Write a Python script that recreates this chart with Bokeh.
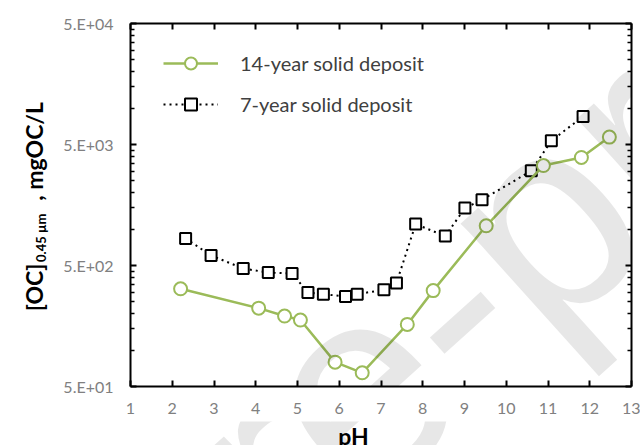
from bokeh.plotting import figure
from bokeh.layouts import row, column
from bokeh.models import FixedTicker, LinearAxis, LogAxis, Label, Legend, LegendItem, Range1d
from bokeh.embed import file_html
from bokeh.resources import INLINE

# ---- data ----
ph_14 = [2.20, 4.07, 4.69, 5.07, 5.90, 6.55, 7.63, 8.25, 9.52, 10.89, 11.80, 12.47]
oc_14 = [321, 222, 191, 177, 79.5, 64.9, 163, 310, 1064, 3350, 3906, 5755]
ph_7 = [2.32, 2.93, 3.70, 4.30, 4.87, 5.25, 5.62, 6.15, 6.43, 7.07, 7.37, 7.83, 8.54,
        9.01, 9.42, 10.60, 11.08, 11.84]
oc_7 = [836, 605, 472, 437, 429, 299, 290, 277, 290, 315, 358, 1100, 875,
        1490, 1745, 3030, 5370, 8510]
series_names = ["14-year solid deposit", "7-year solid deposit"]
x_ticks = [1, 2, 3, 4, 5, 6, 7, 8, 9, 10, 11, 12, 13]
y_ticks = [50, 500, 5000, 50000]
y_tick_labels = ["5.E+01", "5.E+02", "5.E+03", "5.E+04"]
y_minor = [100, 150, 200, 250, 300, 350, 400, 450,
           1000, 1500, 2000, 2500, 3000, 3500, 4000, 4500,
           10000, 15000, 20000, 25000, 30000, 35000, 40000, 45000]
y_title_parts = ["[OC]", "0.45 µm", ", mgOC/L"]
x_title = "pH"
watermark_parts = ["Journal Pre", "-", "proof"]

GREEN = "#9BBB59"
TICK_GRAY = "#808080"
FONT = "Lato"

p = figure(width=590, height=421, x_range=(1, 13), y_range=(50, 50000),
           y_axis_type="log", output_backend="svg", toolbar_location=None,
           min_border_left=80, min_border_right=9, min_border_top=23,
           min_border_bottom=35)
p.grid.visible = False
p.outline_line_color = None
p.background_fill_color = "white"
p.border_fill_color = "white"

yt = FixedTicker(ticks=y_ticks, minor_ticks=y_minor)
xt = FixedTicker(ticks=x_ticks)


def style_axis(ax, labels=True):
    ax.axis_line_color = "black"
    ax.axis_line_width = 2
    ax.major_tick_line_color = "black"
    ax.major_tick_line_width = 2
    ax.minor_tick_line_color = "black"
    ax.minor_tick_line_width = 1.5
    ax.major_tick_in = 6
    ax.major_tick_out = 0
    ax.minor_tick_in = 4
    ax.minor_tick_out = 0
    if labels:
        ax.major_label_text_font = FONT
        ax.major_label_text_font_size = "16px"
        ax.major_label_text_color = TICK_GRAY
    else:
        ax.major_label_text_font_size = "8px"
        ax.major_label_text_alpha = 0
        ax.major_label_standoff = 0


xa = p.xaxis[0]
xa.ticker = xt
style_axis(xa)
xa.major_label_standoff = 16
ya = p.yaxis[0]
ya.ticker = yt
ya.major_label_overrides = {t: l for t, l in zip(y_ticks, y_tick_labels)}
style_axis(ya)
ya.major_label_standoff = 17

top = LinearAxis(ticker=xt, major_label_overrides={t: "" for t in x_ticks})
style_axis(top, labels=False)
p.add_layout(top, "above")
right = LogAxis(ticker=yt, major_label_overrides={t: "" for t in y_ticks})
style_axis(right, labels=False)
p.add_layout(right, "right")

# ---- watermark (translucent so data stays visible) ----
wm_kw = dict(angle=42, angle_units="deg", text_font="Liberation Sans",
             text_font_size="280px", text_color="black", text_alpha=0.095,
             text_baseline="middle", level="guide")
p.add_layout(Label(x=7.740, y=130.7, text=watermark_parts[0], text_align="right", **wm_kw))
p.add_layout(Label(x=8.569, y=236.7, text=watermark_parts[1], text_align="center", **wm_kw))
p.add_layout(Label(x=9.398, y=428.6, text=watermark_parts[2], text_align="left", **wm_kw))

# ---- series ----
r7_line = p.line(ph_7, oc_7, line_color="black", line_width=2, line_dash="2 4")
r7_pts = p.scatter(ph_7, oc_7, marker="square", size=11, fill_color="white",
                   line_color="black", line_width=2)
r14_line = p.line(ph_14, oc_14, line_color=GREEN, line_width=2.5)
r14_pts = p.scatter(ph_14, oc_14, marker="circle", size=13, fill_color="white",
                    line_color=GREEN, line_width=2)

legend = Legend(items=[LegendItem(label=series_names[0], renderers=[r14_line, r14_pts]),
                       LegendItem(label=series_names[1], renderers=[r7_line, r7_pts])],
                location=(33, 267), glyph_width=55, glyph_height=30, label_height=30,
                spacing=11, padding=0, margin=0, label_standoff=22,
                label_text_font=FONT, label_text_font_size="20px",
                label_text_color="#404040", border_line_color=None,
                background_fill_alpha=0)
p.add_layout(legend)

# ---- y-axis title panel: same vertical frame and log scale as the main plot ----
yfig = figure(width=50, height=445, x_range=Range1d(0, 50), y_range=(50, 50000),
              y_axis_type="log", output_backend="svg", toolbar_location=None,
              min_border_left=0, min_border_right=0, min_border_top=23,
              min_border_bottom=59, x_axis_location=None, y_axis_location=None)
yfig.grid.visible = False
yfig.outline_line_color = None
tkw = dict(angle=90, angle_units="deg", text_align="center", text_baseline="middle",
           text_font=FONT, text_font_style="bold", text_color="black")
yfig.add_layout(Label(x=33, y=330.1, text=y_title_parts[0], text_font_size="23px", **tkw))
yfig.add_layout(Label(x=40, y=847, text=y_title_parts[1], text_font_size="13px", **tkw))
yfig.add_layout(Label(x=33, y=4393, text=y_title_parts[2], text_font_size="23px", **tkw))

# ---- x-axis title panel: same horizontal frame and scale as the main plot ----
xfig = figure(width=590, height=24, x_range=(1, 13), y_range=Range1d(0, 24),
              output_backend="svg", toolbar_location=None,
              min_border_left=80, min_border_right=9, min_border_top=0,
              min_border_bottom=0, x_axis_location=None, y_axis_location=None)
xfig.grid.visible = False
xfig.outline_line_color = None
wm_kw2 = dict(wm_kw)
wm_kw2["level"] = "image"
xfig.add_layout(Label(x=7.740, y=109.8, text=watermark_parts[0], text_align="right", **wm_kw2))
xfig.add_layout(Label(x=8.569, y=141, text=watermark_parts[1], text_align="center", **wm_kw2))
xfig.add_layout(Label(x=9.398, y=172.2, text=watermark_parts[2], text_align="left", **wm_kw2))
xfig.add_layout(Label(x=6.34, y=24, text=x_title, text_align="center", text_baseline="top",
                      text_font=FONT, text_font_style="bold", text_font_size="23px",
                      text_color="black"))

layout = row(yfig, column(p, xfig))
open("out.html", "w").write(file_html(layout, INLINE))
